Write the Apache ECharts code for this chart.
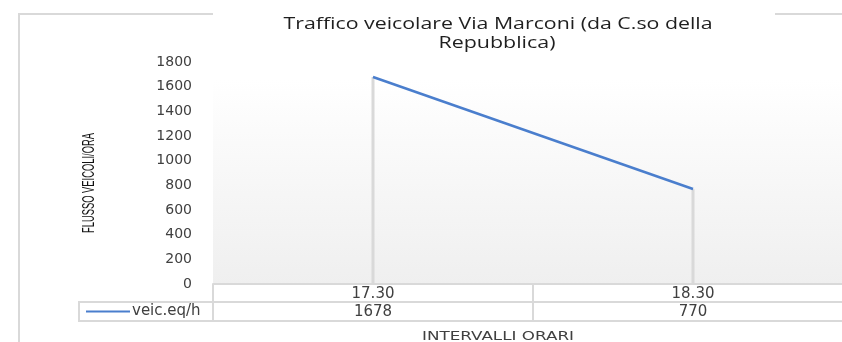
<!DOCTYPE html>
<html>
<head>
<meta charset="utf-8">
<script src="https://cdn.jsdelivr.net/npm/echarts@6/dist/echarts.min.js"></script>
<style>
  html, body { margin: 0; padding: 0; background: #fff; overflow: hidden; }
  /* the plot runs slightly past the right edge of the window */
  #chart { width: 853px; height: 342px; }
</style>
</head>
<body>
<div id="chart"></div>
<script>
// Hourly traffic flow on Via Marconi
const categories = ['17.30', '18.30'];
const seriesName = 'veic.eq/h';
const flowValues = [1678, 770];
const yTicks = { min: 0, max: 1800, interval: 200 };

const titleLines = ['Traffico veicolare Via Marconi (da C.so della', 'Repubblica)'];
const yAxisTitle = 'FLUSSO VEICOLI/ORA';
const xAxisTitle = 'INTERVALLI ORARI';

const FONT = 'DejaVu Sans';
const TITLE_FONT = 'Open Sans';
const NARROW_FONT = 'Liberation Sans';
const TEXT = '#404040';
const RULE = '#d9d9d9';

// horizontal stretch factor needed for a text to span a given width
const measureCtx = document.createElement('canvas').getContext('2d');
function stretchFor(text, size, family, width) {
  measureCtx.font = size + 'px "' + family + '"';
  return width / measureCtx.measureText(text).width;
}

function stretchedText(text, x, y, size, family, width, color, extra) {
  return Object.assign({
    type: 'text',
    silent: true,
    x: x,
    y: y,
    scaleX: stretchFor(text, size, family, width),
    style: {
      text: text,
      fontFamily: family,
      fontSize: size,
      fill: color,
      align: 'center',
      verticalAlign: 'middle'
    }
  }, extra || {});
}

const chart = echarts.init(document.getElementById('chart'), null, { renderer: 'canvas' });

chart.setOption({
  animation: false,
  backgroundColor: '#fff',
  legend: {
    data: [seriesName],
    left: 86,
    top: 304,
    padding: 0,
    icon: 'rect',
    itemWidth: 44,
    itemHeight: 2,
    itemGap: 4,
    textStyle: { fontFamily: FONT, fontSize: 15, color: TEXT, padding: [0, 0, 0, -3] }
  },
  grid: {
    left: 213,
    right: 0,
    top: 62,
    bottom: 58,
    show: true,
    borderWidth: 0,
    backgroundColor: {
      type: 'linear', x: 0, y: 0, x2: 0, y2: 1,
      colorStops: [
        { offset: 0, color: '#ffffff' },
        { offset: 0.08, color: '#ffffff' },
        { offset: 1, color: '#efefef' }
      ]
    }
  },
  xAxis: [
    {
      type: 'category',
      data: categories,
      boundaryGap: true,
      axisLine: { show: true, lineStyle: { color: RULE, width: 2 } },
      axisTick: { show: true, length: 37, lineStyle: { color: RULE, width: 2 } },
      axisLabel: { margin: 3, fontFamily: FONT, fontSize: 15, color: TEXT },
      splitLine: { show: false }
    },
    {
      // data-table row carrying the series values
      type: 'category',
      position: 'bottom',
      offset: 18,
      data: flowValues.map(String),
      boundaryGap: true,
      axisLine: { show: true, lineStyle: { color: RULE, width: 2 } },
      axisTick: { show: false },
      axisLabel: { margin: 3, fontFamily: FONT, fontSize: 15, color: TEXT },
      splitLine: { show: false }
    }
  ],
  yAxis: {
    type: 'value',
    min: yTicks.min,
    max: yTicks.max,
    interval: yTicks.interval,
    axisLine: { show: false },
    axisTick: { show: false },
    splitLine: { show: false },
    axisLabel: { margin: 21, fontFamily: FONT, fontSize: 14, color: TEXT, formatter: v => String(v) }
  },
  series: [
    {
      // vertical drop lines from each point to the axis
      name: 'drop',
      type: 'bar',
      data: flowValues,
      barWidth: 3,
      itemStyle: { color: RULE },
      silent: true,
      z: 1
    },
    {
      name: seriesName,
      type: 'line',
      data: flowValues,
      showSymbol: false,
      symbol: 'none',
      lineStyle: { color: '#4a7ecd', width: 2.5 },
      itemStyle: { color: '#4a7ecd' },
      z: 3
    }
  ],
  graphic: [
    // outer chart frame, open where the title sits
    { type: 'polyline', silent: true, shape: { points: [[19, 342], [19, 14], [213, 14]] }, style: { stroke: RULE, lineWidth: 2, fill: null } },
    { type: 'line', silent: true, shape: { x1: 775, y1: 14, x2: 853, y2: 14 }, style: { stroke: RULE, lineWidth: 2 } },
    // data table: legend cell and bottom rule
    { type: 'rect', silent: true, shape: { x: 79, y: 302, width: 134, height: 19 }, style: { stroke: RULE, lineWidth: 2, fill: null } },
    { type: 'line', silent: true, shape: { x1: 213, y1: 321, x2: 853, y2: 321 }, style: { stroke: RULE, lineWidth: 2 } },
    // chart title
    stretchedText(titleLines[0], 498, 24, 16, TITLE_FONT, 429, '#1f1f1f'),
    stretchedText(titleLines[1], 497, 43, 16, TITLE_FONT, 117, '#1f1f1f'),
    // axis titles (the vertical one is scaled along its own reading direction)
    stretchedText(yAxisTitle, 90, 183, 16, NARROW_FONT, 100, '#111', { rotation: Math.PI / 2 }),
    stretchedText(xAxisTitle, 498, 337, 12, FONT, 152, TEXT)
  ]
});
</script>
</body>
</html>
